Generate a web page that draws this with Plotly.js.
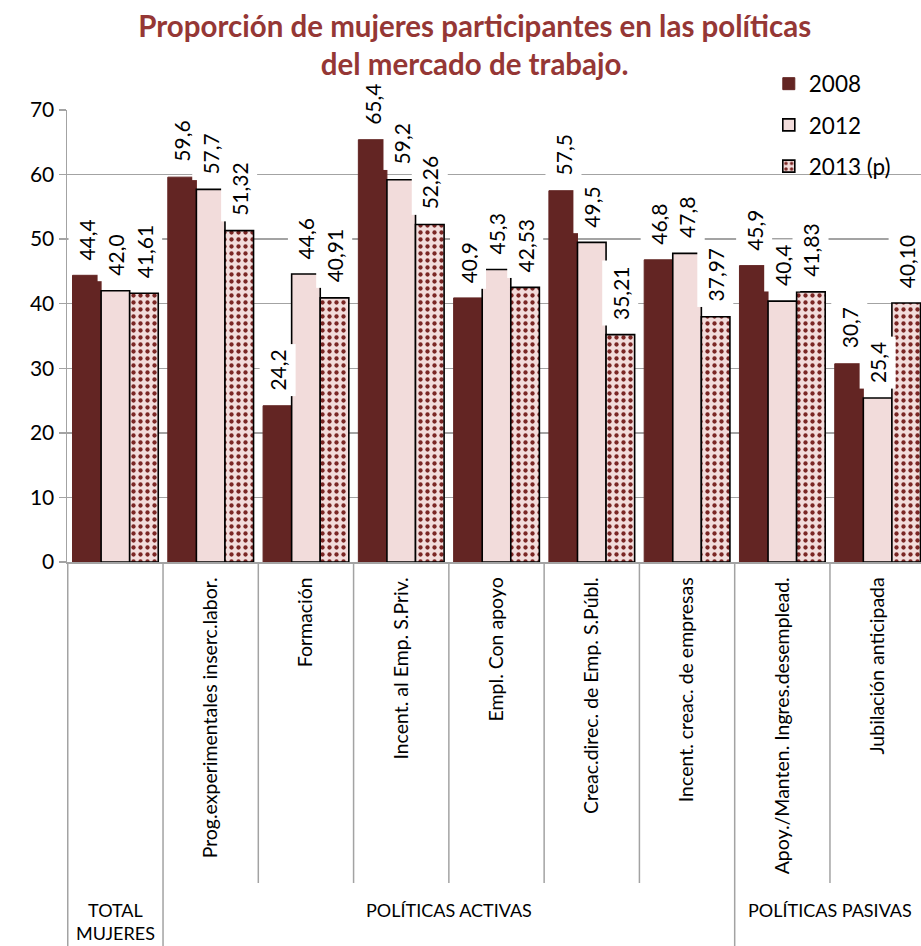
<!DOCTYPE html>
<html>
<head>
<meta charset="utf-8">
<script src="https://cdn.plot.ly/plotly-3.0.1.min.js"></script>
<style>
html,body{margin:0;padding:0;overflow:hidden;background:#fff;}
#chart{width:940px;height:946px;}
</style>
</head>
<body>
<div id="chart"></div>
<script>
// ---- data ----
const categories = ['TOTAL MUJERES', 'Prog.experimentales inserc.labor.', 'Formación', 'Incent. al Emp. S.Priv.', 'Empl. Con apoyo', 'Creac.direc. de Emp. S.Públ.', 'Incent. creac. de empresas', 'Apoy./Manten. Ingres.desemplead.', 'Jubilación anticipada'];
const tickLabels = ['', 'Prog.experimentales inserc.labor.', 'Formación', 'Incent. al Emp. S.Priv.', 'Empl. Con apoyo', 'Creac.direc. de Emp. S.Públ.', 'Incent. creac. de empresas', 'Apoy./Manten. Ingres.desemplead.', 'Jubilación anticipada'];
const seriesNames = ['2008', '2012', '2013 (p)'];
const values2008 = [44.4, 59.6, 24.2, 65.4, 40.9, 57.5, 46.8, 45.9, 30.7];
const values2012 = [42.0, 57.7, 44.6, 59.2, 45.3, 49.5, 47.8, 40.4, 25.4];
const values2013 = [41.61, 51.32, 40.91, 52.26, 42.53, 35.21, 37.97, 41.83, 40.10];
const decimals = [1, 1, 2];
const groupLabels = ['TOTAL<br>MUJERES', 'POLÍTICAS ACTIVAS', 'POLÍTICAS PASIVAS'];
const groupFirst = [0, 1, 7];
const groupLast = [0, 6, 8];
const yTicks = [0, 10, 20, 30, 40, 50, 60, 70];
const titleText = 'Proporción de mujeres participantes en las políticas<br>del mercado de trabajo.';

// ---- styling ----
const FONT = 'Lato, "Open Sans", "DejaVu Sans", sans-serif';
const GRID = '#a3a3a3';
const bargap = 0.1;
const nSeries = 3;
const barW = (1 - bargap) / nSeries;
const allValues = [values2008, values2012, values2013];

const traces = [
  {type: 'bar', name: seriesNames[0], x: categories, y: values2008, legendgroup: 'a',
   marker: {color: '#632523', line: {color: '#632523', width: 1}}},
  {type: 'bar', name: seriesNames[1], x: categories, y: values2012, legendgroup: 'b',
   marker: {color: '#f2dcdb', line: {color: '#000000', width: 1.6}}},
  {type: 'bar', name: seriesNames[2], x: categories, y: values2013, legendgroup: 'c',
   marker: {color: '#f2dcdb', line: {color: '#000000', width: 1.6},
            pattern: {shape: '.', fgcolor: '#7a2624', bgcolor: '#f2dcdb', size: 7, solidity: 0.3}}}
];
traces.forEach(t => { t.hoverinfo = 'skip'; });

const annotations = [];
allValues.forEach((vals, s) => {
  vals.forEach((v, i) => {
    annotations.push({
      x: i + (s - 1) * barW, xref: 'x', y: v, yref: 'y',
      yanchor: 'bottom', xanchor: 'center', yshift: 9,
      text: v.toFixed(decimals[s]).replace('.', ','),
      textangle: -90, showarrow: false,
      bgcolor: '#ffffff', borderpad: 5,
      font: {family: FONT, size: 21, color: '#000'}
    });
  });
});
groupLabels.forEach((g, k) => {
  annotations.push({
    x: (groupFirst[k] + groupLast[k]) / 2, xref: 'x', y: -0.742, yref: 'paper',
    yanchor: 'top', xanchor: 'center', showarrow: false, text: g,
    font: {family: FONT, size: 18, color: '#000'}
  });
});

const shapes = [];
const longDiv = [-0.5, 0.5, 6.5, 8.5];
for (let b = -0.5; b <= categories.length - 0.5; b += 1) {
  const isLong = longDiv.some(d => Math.abs(d - b) < 1e-6);
  shapes.push({type: 'line', xref: 'x', yref: 'paper', x0: b, x1: b, y0: 0, y1: isLong ? -0.86 : -0.71,
               line: {color: GRID, width: 1.5}});
}

const layout = {
  width: 940, height: 946,
  margin: {l: 67, r: 13.5, t: 110, b: 384},
  paper_bgcolor: '#fff', plot_bgcolor: '#fff',
  barmode: 'group', bargap: bargap, bargroupgap: 0,
  title: {text: titleText, x: 0.505, xanchor: 'center', xref: 'container',
          y: 1 - 37 / 946, yanchor: 'middle', yref: 'container',
          font: {family: FONT, size: 29.5, color: '#953735', weight: 'bold'}},
  font: {family: FONT, color: '#000'},
  xaxis: {type: 'category', tickvals: categories, ticktext: tickLabels, tickangle: -90,
          tickfont: {family: FONT, size: 19.5, color: '#000'}, ticks: '', ticklabelstandoff: 6,
          showline: true, linecolor: GRID, linewidth: 1.5, showgrid: false, fixedrange: true},
  yaxis: {range: [0, 70], tickvals: yTicks, ticks: 'outside', ticklen: 7, tickcolor: GRID, tickwidth: 1.5,
          showline: true, linecolor: GRID, linewidth: 1.5, showgrid: true, gridcolor: GRID, gridwidth: 1.5,
          zeroline: false, tickfont: {family: FONT, size: 21, color: '#000'}, fixedrange: true},
  legend: {x: 0.817, xanchor: 'left', y: 1.105, yanchor: 'top', bgcolor: 'rgba(0,0,0,0)',
           traceorder: 'grouped', tracegroupgap: 9, font: {family: FONT, size: 22.5, color: '#000'}},
  annotations: annotations,
  shapes: shapes
};

Plotly.newPlot('chart', traces, layout, {displayModeBar: false, staticPlot: true});
</script>
</body>
</html>
